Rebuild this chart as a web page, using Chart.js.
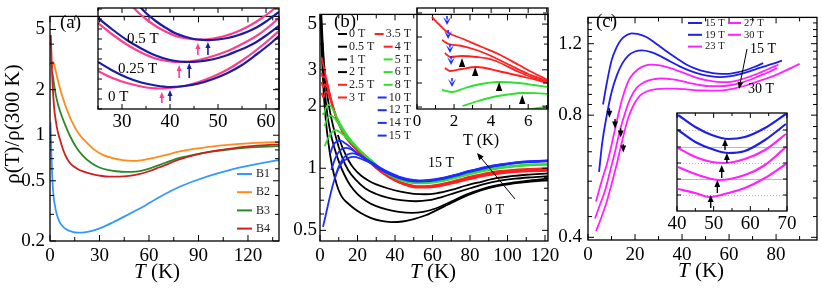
<!DOCTYPE html>
<html>
<head>
<meta charset="utf-8">
<script src="https://cdn.jsdelivr.net/npm/chart.js@4.4.0/dist/chart.umd.min.js"></script>
<style>
html, body { margin: 0; padding: 0; background: #fff; }
#wrap { position: relative; width: 822px; height: 291px; overflow: hidden; background: #fff; }
#wrap canvas { position: absolute; left: 0; top: 0; }
</style>
</head>
<body>
<div id="wrap">
  <canvas id="cA" width="822" height="291"></canvas>
  <canvas id="cB" width="822" height="291"></canvas>
  <canvas id="cC" width="822" height="291"></canvas>
  <canvas id="cAi" width="822" height="291"></canvas>
  <canvas id="cBi" width="822" height="291"></canvas>
  <canvas id="cCi" width="822" height="291"></canvas>
</div>
<script>
// ---------- panel (a): rho(T)/rho(300 K) for samples B1..B4
const aNames = ['B1', 'B2', 'B3', 'B4'];
const aB1 = [[0.3,1.22],[0.6,0.95],[0.9,0.72],[1.3,0.55],[1.8,0.44],[2.5,0.37],[3.5,0.32],[5,0.28],[7,0.255],[10,0.238],[13.5,0.23],[17,0.227],[21,0.228],[26,0.234],[32,0.247],[38,0.265],[45,0.29],[52,0.318],[58,0.345],[64,0.377],[70,0.41],[76,0.443],[83,0.478],[90,0.51],[98,0.545],[106,0.578],[114,0.608],[122,0.635],[130,0.66],[138.8,0.685]];
const aB2 = [[1.2,2.75],[1.7,3.05],[2.3,3.0],[3,2.8],[4,2.5],[5.5,2.15],[7.5,1.8],[10,1.5],[13,1.25],[17,1.04],[22,0.9],[27,0.8],[32,0.742],[38,0.705],[44,0.684],[50,0.676],[56,0.685],[62,0.705],[70,0.74],[78,0.778],[88,0.815],[98,0.842],[108,0.863],[118,0.88],[128,0.893],[138.8,0.905]];
const aB3 = [[1.3,2.6],[1.8,2.45],[2.5,2.15],[3.5,1.85],[5,1.58],[7,1.35],[9.5,1.15],[12.5,0.97],[16,0.83],[20,0.73],[25,0.655],[30,0.612],[35,0.59],[40,0.578],[46,0.572],[52,0.575],[57,0.588],[62,0.612],[70,0.658],[78,0.705],[88,0.746],[98,0.778],[108,0.805],[118,0.825],[128,0.838],[138.8,0.848]];
const aB4 = [[0.5,4.6],[0.8,3.6],[1.1,2.85],[1.5,2.25],[2,1.8],[2.7,1.45],[3.5,1.25],[4.5,1.08],[6,0.94],[7.5,0.83],[9,0.75],[11,0.68],[13,0.64],[16,0.606],[20,0.577],[25,0.555],[30,0.541],[36,0.532],[42,0.532],[48,0.538],[54,0.553],[60,0.578],[66,0.612],[72,0.65],[78,0.69],[88,0.742],[98,0.782],[108,0.812],[118,0.838],[128,0.856],[138.8,0.87]];
const aXTicks = [0,15,30,45,60,75,90,105,120,135];
const aXLabels = [0,30,60,90,120];
const aYTicks = [0.2,0.3,0.4,0.5,0.6,0.7,0.8,0.9,1,2,3,4,5];
const aYLabels = [0.2,0.5,1,2,5];

// inset (a): minima near 40 K, arbitrary log units
const aiLabels = ['0.5 T', '0.25 T', '0 T'];
const ai0Blue = [[25,47],[28,38.5],[31,31.5],[34,26.5],[37,23.5],[40,22],[43,23],[46,25.5],[49,30],[52,36],[55,44],[58,54.5],[60.8,65],[62.7,73]];
const ai0Pink = [[25,38],[28,31],[31,26],[34,22.5],[36,21],[38,20.5],[40,21],[43,23],[46,27],[49,32.5],[52,39.5],[55,48.5],[58,59],[60.8,70],[62.7,78]];
const ai25Blue = [[25,91],[28,79.5],[31,69],[34,60.5],[37,53.5],[40,49],[42,47.5],[44,47],[46,47.5],[48,48.8],[50,51],[52,54],[54,58],[56,62],[58,67],[60,73.5],[62.7,83]];
const ai25Pink = [[25,86],[28,74.5],[31,64.5],[34,56.5],[37,50.5],[40,47.5],[42,47],[44,47.5],[46,49],[48,51.5],[50,54.5],[52,58],[54,62.5],[56,67.5],[58,73],[60,80],[62.7,91]];
const ai5Blue = [[33,106],[35,96],[37,88],[39,81.5],[41,76],[43,72.5],[45,70],[47,69],[48,68.8],[50,69.5],[52,71],[54,73.5],[56,77],[58,81.5],[60,87.5],[62.7,97]];
const ai5Pink = [[31.5,106],[33.5,96],[35.5,88],[37.5,81.5],[39.5,76.5],[41.5,72.5],[43.5,70.5],[45.5,69.5],[47,69.5],[49,70.5],[51,72.5],[53,75.5],[55,79.5],[57,84.5],[59,90.5],[61,97.5],[62.7,104]];
const aiPinkArrows = [[38.3,6,17],[41.9,31,44],[45.8,54,66]];   // T, tail, tip
const aiBlueArrows = [[40,8,19],[44,31,46],[47.9,54,67]];
const aiXTicks = [25,30,35,40,45,50,55,60];
const aiXLabels = [30,40,50,60];
const aiYTicks = [0,10,20,30,40,50,60,70,80,90,100];

// ---------- panel (b): fields 0-15 T
const bNames = ['0 T','0.5 T','1 T','2 T','2.5 T','3 T','3.5 T','4 T','5 T','6 T','8 T','10 T','12 T','14 T','15 T'];
const b0 = [[0.35,5.6],[0.7,4.3],[1.2,3.2],[2,2.3],[3,1.75],[4.5,1.32],[6.5,1.02],[9,0.83],[11,0.745],[12.5,0.71],[15,0.675],[18,0.64],[22,0.605],[27,0.575],[32,0.557],[38,0.548],[44,0.552],[50,0.567],[56,0.59],[62,0.625],[68,0.665],[75,0.715],[82,0.76],[90,0.8],[98,0.83],[106,0.85],[114,0.865],[121.6,0.875]];
const b05 = [[0.5,5.6],[1,4.2],[1.7,3.1],[2.7,2.3],[4,1.8],[5.5,1.5],[7.5,1.27],[10,1.08],[13,0.93],[16,0.83],[20,0.75],[25,0.69],[30,0.655],[36,0.63],[42,0.615],[49,0.608],[55,0.615],[62,0.64],[70,0.69],[78,0.745],[86,0.79],[94,0.825],[102,0.85],[110,0.868],[121.6,0.89]];
const b1 = [[0.7,5.6],[1.3,4.3],[2.2,3.2],[3.3,2.5],[5,1.95],[7,1.6],[9,1.36],[12,1.12],[15,0.98],[19,0.88],[24,0.8],[30,0.75],[36,0.72],[43,0.7],[51,0.692],[58,0.7],[65,0.725],[72,0.76],[80,0.8],[88,0.84],[96,0.87],[104,0.89],[112,0.903],[121.6,0.915]];
const b2 = [[9.5,1.45],[11,1.33],[13,1.2],[15,1.1],[18,1.0],[22,0.92],[26,0.87],[30,0.835],[36,0.8],[43,0.77],[50,0.752],[56,0.748],[62,0.756],[70,0.785],[78,0.825],[86,0.86],[94,0.895],[102,0.915],[110,0.93],[121.6,0.945]];
const r25 = [[0.8,3.45],[1.3,3.3],[2,3.1],[3,2.82],[4.5,2.42],[6,2.12],[8,1.84],[10,1.64],[12.5,1.47],[15,1.36],[18,1.27],[21,1.19],[25,1.1],[30,1.0],[35,0.925],[40,0.87],[45,0.833],[52,0.805],[58,0.806],[65,0.822],[72,0.85],[80,0.885],[88,0.918],[96,0.943],[104,0.958],[112,0.966],[121.6,0.972]];
const r3 = [[0.9,2.9],[1.3,2.78],[1.8,2.76],[2.5,2.78],[3.3,2.7],[4.5,2.45],[6,2.14],[8,1.85],[10,1.65],[12.5,1.48],[15,1.37],[18,1.275],[21,1.195],[25,1.105],[30,1.004],[35,0.929],[40,0.874],[45,0.837],[52,0.81],[58,0.811],[65,0.828],[72,0.857],[80,0.893],[88,0.927],[96,0.952],[104,0.967],[112,0.975],[121.6,0.981]];
const r35 = [[0.9,2.62],[1.4,2.5],[1.8,2.47],[2.4,2.55],[3.2,2.53],[4.5,2.4],[6,2.13],[8,1.85],[10,1.65],[12.5,1.48],[15,1.37],[18,1.278],[21,1.198],[25,1.108],[30,1.007],[35,0.932],[40,0.877],[45,0.841],[52,0.815],[58,0.816],[65,0.834],[72,0.863],[80,0.901],[88,0.936],[96,0.961],[104,0.976],[112,0.984],[121.6,0.99]];
const r4 = [[0.9,2.32],[1.4,2.24],[1.8,2.2],[2.5,2.3],[3.2,2.35],[4.5,2.28],[6,2.08],[8,1.83],[10,1.64],[12.5,1.48],[15,1.37],[18,1.28],[21,1.2],[25,1.11],[30,1.01],[35,0.935],[40,0.88],[45,0.845],[52,0.82],[58,0.822],[65,0.84],[72,0.87],[80,0.91],[88,0.945],[96,0.97],[104,0.985],[112,0.993],[121.6,1.0]];
const g5 = [[1.4,1.85],[2,1.83],[3,1.95],[4.3,2.03],[5.5,2.01],[7,1.92],[9,1.77],[11.5,1.6],[14,1.47],[17,1.35],[20,1.26],[23,1.18],[27,1.09],[32,0.995],[37,0.925],[42,0.88],[47,0.855],[52,0.845],[58,0.848],[65,0.865],[72,0.895],[80,0.935],[88,0.972],[96,1.0],[104,1.02],[112,1.033],[121.6,1.04]];
const g6 = [[2.3,1.6],[3,1.66],[4.5,1.78],[6,1.8],[7.5,1.76],[9.5,1.66],[12,1.53],[15,1.41],[18,1.31],[21,1.225],[24,1.155],[27,1.095],[32,1.0],[37,0.93],[42,0.885],[47,0.86],[52,0.85],[58,0.853],[65,0.87],[72,0.9],[80,0.94],[88,0.977],[96,1.005],[104,1.025],[112,1.038],[121.6,1.045]];
const g8 = [[2.5,1.28],[4,1.38],[6,1.48],[8,1.53],[10,1.51],[12.5,1.45],[15,1.38],[18,1.3],[21,1.225],[24,1.16],[27,1.1],[32,1.005],[37,0.935],[42,0.89],[47,0.865],[52,0.855],[58,0.858],[65,0.875],[72,0.905],[80,0.945],[88,0.982],[96,1.01],[104,1.03],[112,1.043],[121.6,1.05]];
const u10 = [[5.5,1.18],[7,1.29],[9,1.35],[11,1.36],[13,1.33],[16,1.27],[19,1.2],[22,1.14],[25,1.09],[28,1.045],[32,0.99],[37,0.935],[42,0.895],[47,0.872],[52,0.862],[58,0.866],[65,0.885],[72,0.918],[80,0.96],[88,1.0],[96,1.03],[104,1.055],[112,1.07],[121.6,1.08]];
const u12 = [[6,0.98],[8,1.11],[10,1.2],[12,1.245],[14,1.255],[17,1.23],[20,1.18],[23,1.13],[26,1.085],[29,1.045],[32,0.995],[37,0.94],[42,0.9],[47,0.876],[52,0.866],[58,0.87],[65,0.89],[72,0.923],[80,0.965],[88,1.005],[96,1.036],[104,1.06],[112,1.075],[121.6,1.085]];
const u14 = [[8,0.9],[10,1.02],[12.5,1.12],[15,1.17],[17.5,1.18],[20,1.165],[23,1.13],[26,1.09],[29,1.05],[32,1.0],[37,0.945],[42,0.905],[47,0.88],[52,0.87],[58,0.874],[65,0.894],[72,0.927],[80,0.97],[88,1.01],[96,1.041],[104,1.065],[112,1.08],[121.6,1.09]];
const u15 = [[1.6,0.52],[3,0.59],[5,0.71],[7,0.84],[9.5,0.98],[12,1.07],[15,1.12],[18,1.135],[21,1.12],[24,1.09],[27,1.06],[30,1.03],[34,0.985],[38,0.945],[43,0.905],[48,0.882],[53,0.872],[58,0.877],[65,0.897],[72,0.93],[80,0.973],[88,1.013],[96,1.044],[104,1.068],[112,1.083],[121.6,1.093]];
const bXTicks = [0,10,20,30,40,50,60,70,80,90,100,110,120];
const bXLabels = [0,20,40,60,80,100,120];
const bYTicks = [0.5,0.6,0.7,0.8,0.9,1,2,3,4,5];
const bYLabels = [0.5,1,2,3,5];

// inset (b): low-T detail, arbitrary units
const bi25 = [[0.8,92],[1.2,84.5],[1.62,77],[2.5,70],[3.5,62],[4.5,54],[5.5,44],[6.3,36],[7.07,29]];
const bi3 = [[1.35,69],[1.7,65],[2.3,63.5],[3.2,59],[4,53],[5,44],[6,35],[7.07,28]];
const bi35 = [[1.5,56],[1.8,52],[2.4,53],[3.2,52],[4.1,49],[5.5,37],[6.3,31],[7.07,27]];
const bi4 = [[1.5,41],[1.8,38],[2.4,40],[3.2,42],[4.6,37],[6,31],[7.07,26]];
const bi5 = [[1.35,19],[1.9,17],[2.6,21],[3.3,24.5],[4.4,27],[5.5,26],[6.3,24],[7.07,22]];
const bi6 = [[2.45,3],[3.3,8],[4.1,12],[4.9,14.5],[5.7,16],[6.4,15.8],[7.07,15]];
const bi8 = [[5.2,-3],[6.2,0],[7.07,2.5]];
const biDips = [[1.62,84],[1.68,70],[1.78,56],[1.84,44],[1.89,22]];
const biPeaks = [[2.43,46],[3.14,37],[4.43,22],[5.68,9]];
const biXTicks = [0,1,2,3,4,5,6,7];
const biXLabels = [0,2,4,6];
const biYTicks = [2,26,49,72,96];

// ---------- panel (c): 15-30 T
const cNames = ['15 T', '19 T', '23 T', '27 T', '30 T'];
const c15 = [[6.4,0.85],[8,0.96],[10,1.09],[12,1.17],[14,1.225],[16.5,1.26],[18.6,1.272],[21,1.268],[25,1.245],[29,1.2],[33.5,1.148],[38,1.102],[42,1.065],[46,1.04],[50.5,1.022],[55,1.012],[59,1.011],[63.5,1.02],[67.6,1.035],[71,1.053],[74.5,1.075]];
const c19 = [[4.7,0.58],[6,0.68],[8,0.8],[10,0.91],[12.3,1.004],[14.5,1.07],[17,1.12],[20,1.148],[23,1.155],[26.5,1.145],[30.6,1.12],[35,1.085],[39,1.055],[43.5,1.028],[47.7,1.01],[52,0.998],[56,0.993],[60,0.997],[64.7,1.01],[69,1.027],[73,1.046],[78,1.068],[82.5,1.09]];
const c23 = [[3.4,0.49],[5,0.53],[6.4,0.565],[8,0.605],[10,0.675],[12.3,0.775],[14.5,0.875],[16.5,0.95],[18,0.99],[21,1.035],[24,1.058],[27,1.065],[30,1.062],[33.6,1.05],[38,1.03],[42,1.01],[46,0.99],[50.6,0.975],[55,0.966],[59,0.965],[63,0.972],[67.6,0.99],[72,1.012],[76,1.035],[81,1.065]];
const c27 = [[3,0.445],[5,0.48],[7.2,0.52],[9.5,0.585],[11.5,0.65],[13.5,0.73],[15.7,0.808],[18,0.88],[20.8,0.935],[24,0.965],[27.5,0.98],[31.5,0.985],[36,0.98],[40,0.97],[44,0.958],[48,0.948],[52,0.943],[56,0.943],[60.5,0.948],[64.7,0.96],[69,0.978],[73,1.0],[77,1.022],[80.4,1.045]];
const c30 = [[3.4,0.414],[5.5,0.445],[8,0.49],[10,0.54],[12.3,0.608],[14.5,0.69],[17,0.784],[19.5,0.85],[22,0.893],[25,0.915],[29,0.927],[33,0.93],[37,0.93],[41,0.927],[45,0.922],[49,0.92],[53,0.919],[57.5,0.921],[62,0.93],[67.6,0.948],[73,0.972],[79,1.0],[84,1.03],[90,1.07]];
const cOnsets = [[9.1,0.832,0.788],[11.5,0.783,0.742],[13.9,0.742,0.705],[15,0.678,0.647]];
const cXTicks = [0,10,20,30,40,50,60,70,80,90];
const cXLabels = [0,20,40,60,80];
const cYTicks = [0.4,0.45,0.5,0.55,0.6,0.65,0.7,0.75,0.8,0.85,0.9,0.95,1,1.05,1.1,1.15,1.2,1.25,1.3,1.35];
const cYLabels = [0.4,0.8,1.2];

// inset (c): minima near 50 K, arbitrary units
const ci1 = [[40.3,96],[45,84],[49.5,76],[54,72],[58.5,74],[64,83],[69.7,97]];
const ci2 = [[40.3,81],[45,69],[49.5,62],[54,58],[58.5,60],[64,71],[69.7,87]];
const ci3 = [[40.3,63],[45,54],[49.5,49],[53,48],[58.5,52],[64,61],[69.7,77]];
const ci4 = [[40.3,44],[45,37],[49.5,32],[51.5,31],[58.5,36],[64,46],[69.7,64]];
const ci5 = [[40.3,22],[45,18],[49,14],[54,18],[58.5,23],[64,33],[69.7,47]];
const ciArrows = [[53.1,61,72],[53.6,48,58],[52.2,33,46],[51,18,31],[49.2,3,16]];
const ciXTicks = [40,45,50,55,60,65,70];
const ciXLabels = [40,50,60,70];
const ciYTicks = [16,32,48,64,81];

// ---------- helpers
const SERIF = "'Liberation Serif', 'DejaVu Serif', serif";

function axis(o) {
    return {
        type: o.type || 'linear',
        min: o.min,
        max: o.max,
        position: o.horizontal ? 'bottom' : 'left',
        grid: { display: false, drawTicks: false },
        border: { display: false },
        ticks: {
            autoSkip: false, maxRotation: 0, minRotation: 0,
            padding: o.pad, color: '#000',
            font: { family: SERIF, size: o.font },
            callback: v => o.labels.includes(v) ? String(v) : ''
        },
        afterBuildTicks: s => { s.ticks = o.ticks.map(v => ({ value: v })); },
        afterFit: s => { if (o.horizontal) s.height = o.size; else s.width = o.size; }
    };
}

function line(pts, color, w) {
    return {
        data: pts.map(p => ({ x: p[0], y: p[1] })),
        borderColor: color,
        borderWidth: w || 1.8,
        showLine: true,
        pointRadius: 0,
        fill: false,
        cubicInterpolationMode: 'monotone',
        borderJoinStyle: 'round'
    };
}

// box ticks pointing inwards on all four sides
function frame(xMaj, xMin, yMaj, yMin) {
    return {
        id: 'frame',
        afterDraw(chart) {
            const { ctx, chartArea: a } = chart;
            const xs = chart.scales.x, ys = chart.scales.y;
            ctx.save();
            ctx.strokeStyle = '#000';
            ctx.lineWidth = 1;
            ctx.beginPath();
            xs.ticks.forEach(t => {
                const p = xs.getPixelForValue(t.value);
                const len = t.label ? xMaj : xMin;
                ctx.moveTo(p, a.bottom); ctx.lineTo(p, a.bottom - len);
                ctx.moveTo(p, a.top); ctx.lineTo(p, a.top + len);
            });
            ys.ticks.forEach(t => {
                const p = ys.getPixelForValue(t.value);
                const len = t.label ? yMaj : yMin;
                ctx.moveTo(a.left, p); ctx.lineTo(a.left + len, p);
                ctx.moveTo(a.right, p); ctx.lineTo(a.right - len, p);
            });
            ctx.stroke();
            ctx.lineWidth = 1.3;
            ctx.strokeRect(a.left, a.top, a.right - a.left, a.bottom - a.top);
            ctx.restore();
        }
    };
}

function deco(fn) {
    return { id: 'deco', afterDraw(chart) { fn(chart, chart.ctx); } };
}

function makeChart(id, box, xo, yo, sets, extra) {
    xo.horizontal = true;
    xo.size = 291 - box.b;
    yo.size = box.l;
    return new Chart(document.getElementById(id), {
        type: 'scatter',
        data: { datasets: sets },
        options: {
            responsive: false,
            animation: false,
            events: [],
            layout: { padding: { left: 0, bottom: 0, top: box.t, right: 822 - box.r } },
            plugins: { legend: { display: false }, tooltip: { enabled: false } },
            scales: { x: axis(xo), y: axis(yo) }
        },
        plugins: extra
    });
}

function txt(ctx, s, x, y, size, align, color, style) {
    ctx.save();
    ctx.font = (style || '') + ' ' + size + 'px ' + SERIF;
    ctx.fillStyle = color || '#000';
    ctx.textAlign = align || 'left';
    ctx.textBaseline = 'middle';
    ctx.fillText(s, x, y);
    ctx.restore();
}

// "T (K)" with italic T
function tTitle(ctx, cx, cy, size, italic) {
    ctx.save();
    const f1 = (italic ? 'italic ' : '') + size + 'px ' + SERIF;
    const f2 = size + 'px ' + SERIF;
    ctx.font = f1; const w1 = ctx.measureText('T').width;
    ctx.font = f2; const w2 = ctx.measureText(' (K)').width;
    const x0 = cx - (w1 + w2) / 2;
    ctx.textBaseline = 'middle';
    ctx.fillStyle = '#000';
    ctx.font = f1; ctx.fillText('T', x0, cy);
    ctx.font = f2; ctx.fillText(' (K)', x0 + w1, cy);
    ctx.restore();
}

function arrow(ctx, x1, y1, x2, y2, color, head, notch, lw, wide) {
    const ang = Math.atan2(y2 - y1, x2 - x1);
    const h = head || 6, wd = h * (wide || 0.42);
    const c = Math.cos(ang), s = Math.sin(ang);
    ctx.save();
    ctx.strokeStyle = color; ctx.fillStyle = color;
    ctx.lineWidth = lw || 1.2;
    ctx.beginPath();
    ctx.moveTo(x1, y1);
    ctx.lineTo(x2 - h * 0.7 * c, y2 - h * 0.7 * s);
    ctx.stroke();
    ctx.beginPath();
    ctx.moveTo(x2, y2);
    ctx.lineTo(x2 - h * c + wd * s, y2 - h * s - wd * c);
    if (notch) ctx.lineTo(x2 - h * 0.5 * c, y2 - h * 0.5 * s);
    ctx.lineTo(x2 - h * c - wd * s, y2 - h * s + wd * c);
    ctx.closePath();
    ctx.fill();
    ctx.restore();
}

function legendRow(ctx, x1, x2, y, color, label, size, tx, align) {
    ctx.save();
    ctx.strokeStyle = color; ctx.lineWidth = 2;
    ctx.beginPath(); ctx.moveTo(x1, y); ctx.lineTo(x2, y); ctx.stroke();
    ctx.restore();
    txt(ctx, label, tx, y, size, align || 'left', '#222');
}

// ---------- panel (a)
const aColors = ['#3399ff', '#ff8c1a', '#2a8a2a', '#cc2020'];
makeChart('cA', { l: 50, t: 8, r: 279, b: 241 },
    { min: 0, max: 138.8, ticks: aXTicks, labels: aXLabels, pad: 4, font: 19 },
    { type: 'logarithmic', min: 0.2, max: 6.1, ticks: aYTicks, labels: aYLabels, pad: 5, font: 19 },
    [line(aB4, aColors[3]), line(aB3, aColors[2]), line(aB2, aColors[1]), line(aB1, aColors[0])],
    [frame(6, 4, 6, 4), deco((chart, ctx) => {
        txt(ctx, '(a)', 60, 23, 19);
        tTitle(ctx, 157, 272, 21, true);
        ctx.save();
        ctx.translate(13, 124);
        ctx.rotate(-Math.PI / 2);
        txt(ctx, 'ρ(T)/ρ(300 K)', 0, 0, 21, 'center');
        ctx.restore();
        aNames.forEach((n, i) => legendRow(ctx, 237, 252, 174 + i * 18.2, aColors[i], n, 12, 256));
    })]);

// inset (a)
const pink = '#ff3d8f', navy = '#1c1c9e';
makeChart('cAi', { l: 98, t: 8, r: 279, b: 109 },
    { min: 25, max: 62.7, ticks: aiXTicks, labels: aiXLabels, pad: 2, font: 19 },
    { min: 0, max: 101, ticks: aiYTicks, labels: [], pad: 0, font: 10 },
    [line(ai5Blue, navy, 2.2), line(ai5Pink, pink, 2.2), line(ai25Blue, navy, 2.2), line(ai25Pink, pink, 2.2), line(ai0Blue, navy, 2.2), line(ai0Pink, pink, 2.2)],
    [frame(5, 3, 4, 4), deco((chart, ctx) => {
        const xs = chart.scales.x, ys = chart.scales.y;
        txt(ctx, aiLabels[0], 127, 39, 15);
        txt(ctx, aiLabels[1], 118, 69, 15);
        txt(ctx, aiLabels[2], 108, 97, 15);
        aiPinkArrows.forEach(a => arrow(ctx, xs.getPixelForValue(a[0]), ys.getPixelForValue(a[1]),
            xs.getPixelForValue(a[0]), ys.getPixelForValue(a[2]), pink, 6, false, 1.6));
        aiBlueArrows.forEach(a => arrow(ctx, xs.getPixelForValue(a[0]), ys.getPixelForValue(a[1]),
            xs.getPixelForValue(a[0]), ys.getPixelForValue(a[2]), navy, 6, false, 1.6));
    })]);

// ---------- panel (b)
const K = '#000', R = '#ff2020', G = '#2ee02e', U = '#1e2cff';
const bColors = [K, K, K, K, R, R, R, R, G, G, G, U, U, U, U];
const bCurves = [b0, b05, b1, b2, r25, r3, r35, r4, g5, g6, g8, u10, u12, u14, u15];
makeChart('cB', { l: 320, t: 8, r: 548, b: 241 },
    { min: 0, max: 121.6, ticks: bXTicks, labels: bXLabels, pad: 4, font: 19 },
    { type: 'logarithmic', min: 0.444, max: 5.57, ticks: bYTicks, labels: bYLabels, pad: 3, font: 19 },
    bCurves.map((c, i) => line(c, bColors[i])).reverse(),
    [frame(6, 4, 6, 4), deco((chart, ctx) => {
        txt(ctx, '(b)', 334, 22, 19);
        tTitle(ctx, 433, 272, 21, true);
        bNames.forEach((n, i) => {
            if (i < 6) {
                legendRow(ctx, 338, 347, 34 + i * 12.7, bColors[i], n, 12, 349);
            } else {
                ctx.save(); ctx.font = '12px ' + SERIF;
                const w = ctx.measureText(n).width; ctx.restore();
                const y = 34 + (i - 6) * 12.7;
                legendRow(ctx, 411 - w - 11, 411 - w - 2, y, bColors[i], n, 12, 411, 'right');
            }
        });
        txt(ctx, '15 T', 428, 163, 14);
        txt(ctx, '0 T', 485, 210, 14);
        arrow(ctx, 515, 199, 477, 153, '#000', 7, false, 1);
    })]);

// inset (b)
makeChart('cBi', { l: 417, t: 8, r: 548, b: 109 },
    { min: 0, max: 7.07, ticks: biXTicks, labels: biXLabels, pad: 2, font: 17 },
    { min: 0, max: 101, ticks: biYTicks, labels: [], pad: 0, font: 10 },
    [line(bi25, R), line(bi3, R), line(bi35, R), line(bi4, R), line(bi5, G), line(bi6, G), line(bi8, G)],
    [frame(5, 4, 5, 5), deco((chart, ctx) => {
        const xs = chart.scales.x, ys = chart.scales.y;
        tTitle(ctx, 481, 141, 16, false);
        biDips.forEach(d => {
            const x = xs.getPixelForValue(d[0]), y = ys.getPixelForValue(d[1]);
            arrow(ctx, x, y - 9, x, y, '#1e2cff', 8, true, 1.6, 0.5);
        });
        biPeaks.forEach(p => {
            const x = xs.getPixelForValue(p[0]), y = ys.getPixelForValue(p[1]);
            ctx.save(); ctx.fillStyle = '#000';
            ctx.beginPath(); ctx.moveTo(x, y - 5); ctx.lineTo(x - 3.2, y + 4); ctx.lineTo(x + 3.2, y + 4);
            ctx.closePath(); ctx.fill(); ctx.restore();
        });
    })]);

// ---------- panel (c)
const CU = '#1f1fe6', CM = '#ff22ff';
const cColors = [CU, CU, CM, CM, CM];
makeChart('cC', { l: 588, t: 8, r: 817, b: 240 },
    { min: 0, max: 97.4, ticks: cXTicks, labels: cXLabels, pad: 4, font: 19 },
    { type: 'logarithmic', min: 0.394, max: 1.393, ticks: cYTicks, labels: cYLabels, pad: 6, font: 19 },
    [line(c15, CU), line(c19, CU), line(c23, CM), line(c27, CM), line(c30, CM)],
    [frame(6, 4, 6, 4), deco((chart, ctx) => {
        const xs = chart.scales.x, ys = chart.scales.y;
        txt(ctx, '(c)', 596, 22, 19);
        tTitle(ctx, 701, 271, 21, true);
        [0, 1, 2].forEach(i => legendRow(ctx, 688, 702, 23 + i * 11.8, cColors[i], cNames[i], 10.5, 705));
        [3, 4].forEach(i => legendRow(ctx, 728, 741, 23 + (i - 3) * 11.8, cColors[i], cNames[i], 10.5, 744));
        txt(ctx, '15 T', 750, 49, 14);
        txt(ctx, '30 T', 748, 89, 14);
        arrow(ctx, 747, 49, 739, 89, '#000', 7, false, 1);
        cOnsets.forEach(a => {
            const x = xs.getPixelForValue(a[0]);
            arrow(ctx, x, ys.getPixelForValue(a[1]), x, ys.getPixelForValue(a[2]), '#000', 7, false, 1.4);
        });
    })]);

// inset (c)
makeChart('cCi', { l: 677, t: 113, r: 787, b: 211 },
    { min: 40, max: 70, ticks: ciXTicks, labels: ciXLabels, pad: 2, font: 19 },
    { min: 0, max: 98, ticks: ciYTicks, labels: [], pad: 0, font: 10 },
    [line(ci1, CU, 2.2), line(ci2, CU, 2.2), line(ci3, CM, 2.2), line(ci4, CM, 2.2), line(ci5, CM, 2.2)],
    [{
        id: 'grid',
        beforeDatasetsDraw(chart) {
            const { ctx, chartArea: a } = chart;
            const ys = chart.scales.y;
            ctx.save();
            ctx.strokeStyle = '#b8b8b8';
            ctx.lineWidth = 1;
            ciYTicks.forEach((v, i) => {
                const y = Math.round(ys.getPixelForValue(v)) + 0.5;
                ctx.setLineDash(i % 2 === 0 ? [1, 2] : []);
                ctx.beginPath(); ctx.moveTo(a.left, y); ctx.lineTo(a.right, y); ctx.stroke();
            });
            ctx.restore();
        }
    }, frame(5, 3, 4, 4), deco((chart, ctx) => {
        const xs = chart.scales.x, ys = chart.scales.y;
        ciArrows.forEach(a => {
            const x = xs.getPixelForValue(a[0]);
            arrow(ctx, x, ys.getPixelForValue(a[1]), x, ys.getPixelForValue(a[2]), '#000', 7, false, 1.4);
        });
    })]);
</script>
</body>
</html>
